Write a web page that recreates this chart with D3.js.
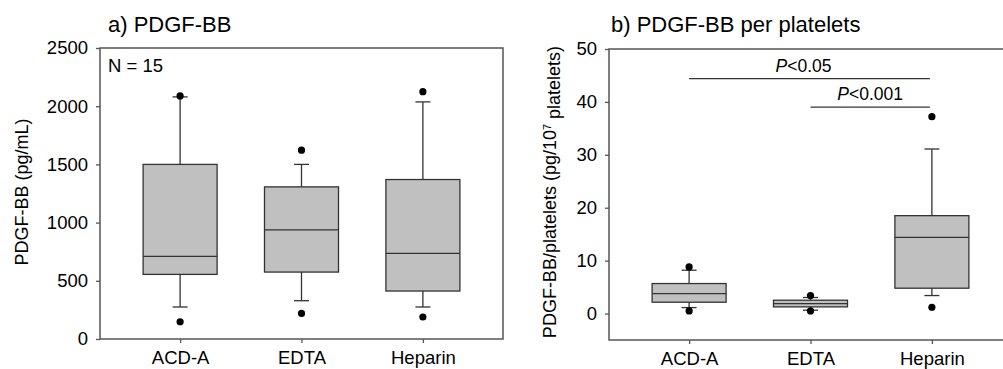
<!DOCTYPE html>
<html>
<head>
<meta charset="utf-8">
<script src="https://cdn.jsdelivr.net/npm/d3@7"></script>
<style>
  body { margin: 0; background: #fff; }
  text { font-family: "Liberation Sans", Arial, sans-serif; fill: #000; }
  .frame { fill: none; stroke: #555; stroke-width: 1.5; }
  .box { fill: #c0c0c0; stroke: #333; stroke-width: 1.3; }
  .wh { stroke: #333; stroke-width: 1.3; }
  .axis path { display: none; }
  .axis line { stroke: #555; stroke-width: 1.3; }
  .axis text { font-size: 18.5px; }
</style>
</head>
<body>
<svg id="chart" width="1003" height="369"></svg>
<script>
var groups = [ "ACD-A", "EDTA", "Heparin" ];

// panel a: PDGF-BB (pg/mL)
var aQ1 = [ 555, 575, 412 ],
    aMed = [ 710, 938, 735 ],
    aQ3 = [ 1500, 1307, 1370 ],
    aLo = [ 275, 329, 275 ],
    aHi = [ 2080, 1500, 2037 ],
    aOutLo = [ 148, 220, 189 ],
    aOutHi = [ 2088, 1622, 2125 ],
    aTicks = [ 0, 500, 1000, 1500, 2000, 2500 ];

// panel b: PDGF-BB per 10^7 platelets
var bQ1 = [ 2.14, 1.26, 4.79 ],
    bMed = [ 3.78, 1.89, 14.4 ],
    bQ3 = [ 5.67, 2.52, 18.5 ],
    bLo = [ 1.13, 0.63, 3.4 ],
    bHi = [ 8.19, 3.03, 31.1 ],
    bOutLo = [ 0.5, 0.5, 1.19 ],
    bOutHi = [ 8.81, 3.4, 37.2 ],
    bTicks = [ 0, 10, 20, 30, 40, 50 ];

// significance bars: from, to, level, label
var sigFrom = [ "ACD-A", "EDTA" ],
    sigTo = [ "Heparin", "Heparin" ],
    sigY = [ 44.4, 39.0 ],
    sigLabel = [ "<0.05", "<0.001" ];

var svg = d3.select( "#chart" ),
    boxW = 74,
    capW = 15;

function panel( opt ) {
    var x = d3.scalePoint().domain( groups ).range( [ opt.left, opt.right ] ).padding( 0.66 );
    var y = d3.scaleLinear().domain( opt.domain ).range( [ opt.bottom, opt.top ] );
    var g = svg.append( "g" );

    g.append( "rect" ).attr( "class", "frame" )
        .attr( "x", opt.left ).attr( "y", opt.top )
        .attr( "width", opt.right - opt.left ).attr( "height", opt.bottom - opt.top );

    g.append( "g" ).attr( "class", "axis" )
        .attr( "transform", "translate(" + opt.left + ",0)" )
        .call( d3.axisLeft( y ).tickValues( opt.ticks ).tickFormat( d3.format( "d" ) )
            .tickSize( 4 ).tickPadding( 8 ) );

    g.append( "g" ).attr( "class", "axis" )
        .attr( "transform", "translate(0," + opt.bottom + ")" )
        .call( d3.axisBottom( x ).tickSize( 4 ).tickPadding( opt.xPad ) );

    var rows = groups.map( function( d, i ) {
        return { k: d, q1: opt.q1[ i ], med: opt.med[ i ], q3: opt.q3[ i ], lo: opt.lo[ i ], hi: opt.hi[ i ],
            out: [ opt.outLo[ i ], opt.outHi[ i ] ] };
    } );

    var b = g.selectAll( ".bx" ).data( rows ).enter().append( "g" ).attr( "class", "bx" );

    b.append( "line" ).attr( "class", "wh" )
        .attr( "x1", function( d ) { return x( d.k ); } ).attr( "x2", function( d ) { return x( d.k ); } )
        .attr( "y1", function( d ) { return y( d.hi ); } ).attr( "y2", function( d ) { return y( d.lo ); } );
    [ "hi", "lo" ].forEach( function( key ) {
        b.append( "line" ).attr( "class", "wh" )
            .attr( "x1", function( d ) { return x( d.k ) - capW / 2; } )
            .attr( "x2", function( d ) { return x( d.k ) + capW / 2; } )
            .attr( "y1", function( d ) { return y( d[ key ] ); } )
            .attr( "y2", function( d ) { return y( d[ key ] ); } );
    } );
    b.append( "rect" ).attr( "class", "box" )
        .attr( "x", function( d ) { return x( d.k ) - boxW / 2; } )
        .attr( "width", boxW )
        .attr( "y", function( d ) { return y( d.q3 ); } )
        .attr( "height", function( d ) { return y( d.q1 ) - y( d.q3 ); } );
    b.append( "line" ).attr( "class", "wh" )
        .attr( "x1", function( d ) { return x( d.k ) - boxW / 2; } )
        .attr( "x2", function( d ) { return x( d.k ) + boxW / 2; } )
        .attr( "y1", function( d ) { return y( d.med ); } )
        .attr( "y2", function( d ) { return y( d.med ); } );
    b.selectAll( "circle" ).data( function( d ) {
            return d.out.map( function( v ) { return { k: d.k, v: v }; } );
        } ).enter().append( "circle" )
        .attr( "cx", function( d ) { return x( d.k ); } )
        .attr( "cy", function( d ) { return y( d.v ); } )
        .attr( "r", 3.6 ).style( "fill", "#000" );

    g.append( "text" ).attr( "x", opt.titleX ).attr( "y", 32 )
        .style( "font-size", "22px" ).text( opt.title );

    g.append( "text" )
        .attr( "transform", "translate(" + opt.labelX + "," + opt.labelY + ") rotate(-90)" )
        .style( "text-anchor", "middle" ).style( "font-size", "18px" )
        .call( opt.label );

    return { g: g, x: x, y: y };
}

var pa = panel( {
    left: 100, right: 503, top: 48, bottom: 339, domain: [ 0, 2500 ], ticks: aTicks, xPad: 8,
    q1: aQ1, med: aMed, q3: aQ3, lo: aLo, hi: aHi, outLo: aOutLo, outHi: aOutHi,
    title: "a) PDGF-BB", titleX: 108, labelX: 28, labelY: 192,
    label: function( t ) { t.text( "PDGF-BB (pg/mL)" ); }
} );

pa.g.append( "text" ).attr( "x", 108 ).attr( "y", 72 ).style( "font-size", "18.5px" ).text( "N = 15" );

var pb = panel( {
    left: 609, right: 1012, top: 49, bottom: 340, domain: [ -5, 50 ], ticks: bTicks, xPad: 8,
    q1: bQ1, med: bMed, q3: bQ3, lo: bLo, hi: bHi, outLo: bOutLo, outHi: bOutHi,
    title: "b) PDGF-BB  per platelets", titleX: 611, labelX: 556, labelY: 192,
    label: function( t ) {
        t.append( "tspan" ).text( "PDGF-BB/platelets (pg/10" );
        t.append( "tspan" ).attr( "dy", "-0.5em" ).style( "font-size", "11px" ).text( "7" );
        t.append( "tspan" ).attr( "dy", "0.5em" ).text( " platelets)" );
    }
} );

sigFrom.forEach( function( f, i ) {
    var x1 = pb.x( f ), x2 = pb.x( sigTo[ i ] ) - 2, yy = pb.y( sigY[ i ] );
    pb.g.append( "line" ).attr( "x1", x1 ).attr( "x2", x2 ).attr( "y1", yy ).attr( "y2", yy )
        .style( "stroke", "#333" ).style( "stroke-width", 1.3 );
    var t = pb.g.append( "text" ).attr( "x", ( x1 + x2 ) / 2 - ( i === 0 ? 6 : 0 ) ).attr( "y", yy - 7 )
        .style( "text-anchor", "middle" ).style( "font-size", "17.5px" );
    t.append( "tspan" ).style( "font-style", "italic" ).text( "P" );
    t.append( "tspan" ).text( sigLabel[ i ] );
} );
</script>
</body>
</html>
